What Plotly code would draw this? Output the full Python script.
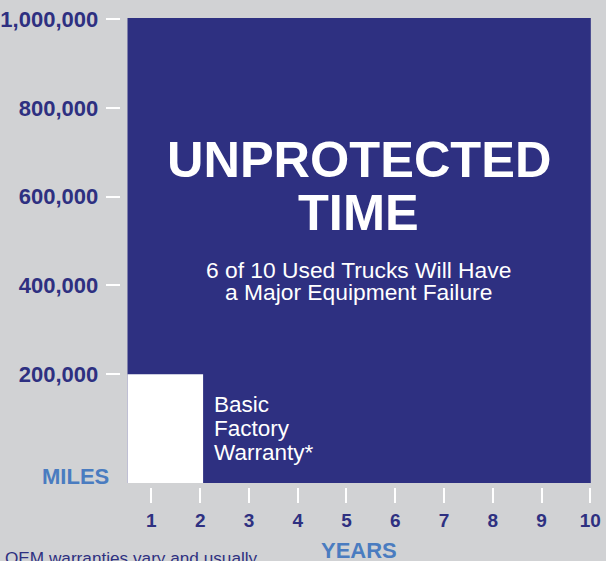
import plotly.graph_objects as go

# ---- data ----
years = [1, 2, 3, 4, 5, 6, 7, 8, 9, 10]
year_labels = ["1", "2", "3", "4", "5", "6", "7", "8", "9", "10"]
miles = [200000, 400000, 600000, 800000, 1000000]
mile_labels = ["200,000", "400,000", "600,000", "800,000", "1,000,000"]

# extents of the two blocks, in axis units (years, miles)
unprotected_x = [0.51, 10.01]
unprotected_y = [-44700, 1002000]
warranty_x = [0.51, 2.06]
warranty_y = [-44700, 200000]

# ---- styling ----
W, H = 606, 561
BG = "#d1d2d4"
NAVY = "#2e3081"
BLUE = "#4a7cc0"
FONT = "Liberation Sans, Arial, Helvetica, sans-serif"


def px(x):
    return x / W


def py(y):
    return 1 - y / H


fig = go.Figure()
# invisible trace so axes render
fig.add_trace(go.Scatter(x=[years[0]], y=[miles[0]], mode="markers",
                         marker=dict(opacity=0), hoverinfo="skip", showlegend=False))

fig.add_shape(type="rect", xref="x", yref="y", layer="below",
              x0=unprotected_x[0], x1=unprotected_x[1],
              y0=unprotected_y[0], y1=unprotected_y[1],
              fillcolor=NAVY, line=dict(width=0))
fig.add_shape(type="rect", xref="x", yref="y", layer="below",
              x0=warranty_x[0], x1=warranty_x[1],
              y0=warranty_y[0], y1=warranty_y[1],
              fillcolor="white", line=dict(width=0))

fig.update_layout(
    width=W, height=H, autosize=False,
    margin=dict(l=0, r=0, t=0, b=0, pad=0),
    paper_bgcolor=BG, plot_bgcolor=BG,
    showlegend=False,
    xaxis=dict(range=[-2.0635, 10.3215], domain=[0, 1], anchor="free",
               position=74 / H, side="bottom",
               tickmode="array", tickvals=years, ticktext=year_labels,
               ticks="outside", ticklen=15, tickwidth=2, tickcolor="white",
               tickfont=dict(family=FONT, size=19, color=NAVY, weight="bold"),
               ticklabelstandoff=1,
               showgrid=False, zeroline=False, showline=False, fixedrange=True),
    yaxis=dict(range=[-220354, 1042778], domain=[0, 1], anchor="free",
               position=118 / W, side="left",
               tickmode="array", tickvals=miles, ticktext=mile_labels,
               ticks="outside", ticklen=14, tickwidth=2, tickcolor="white",
               tickfont=dict(family=FONT, size=22, color=NAVY, weight="bold"),
               ticklabelstandoff=3,
               showgrid=False, zeroline=False, showline=False, fixedrange=True),
)


def ann(text, x, y, size, color="white", bold=False, xanchor="center"):
    fig.add_annotation(text=text, xref="paper", yref="paper",
                       x=px(x), y=py(y), xanchor=xanchor, yanchor="middle",
                       showarrow=False, borderpad=0,
                       font=dict(family=FONT, size=size, color=color,
                                 weight="bold" if bold else "normal"))


ann("UNPROTECTED", 358, 159, 50.5, bold=True)
ann("TIME", 358, 212.5, 50.5, bold=True)
ann("6 of 10 Used Trucks Will Have", 358, 270, 22.8)
ann("a Major Equipment Failure", 358, 291.5, 22.8)
ann("Basic", 212, 404, 22.5, xanchor="left")
ann("Factory", 212, 428, 22.5, xanchor="left")
ann("Warranty*", 212, 452, 22.5, xanchor="left")
ann("MILES", 73.5, 476, 22, color=BLUE, bold=True)
ann("YEARS", 358, 550, 22, color=BLUE, bold=True)
ann("OEM warranties vary and usually", 2, 557.5, 17.2, color=NAVY, xanchor="left")

fig.write_html("out.html", config={"displayModeBar": False},
               post_script="document.body.style.margin='0px';")
